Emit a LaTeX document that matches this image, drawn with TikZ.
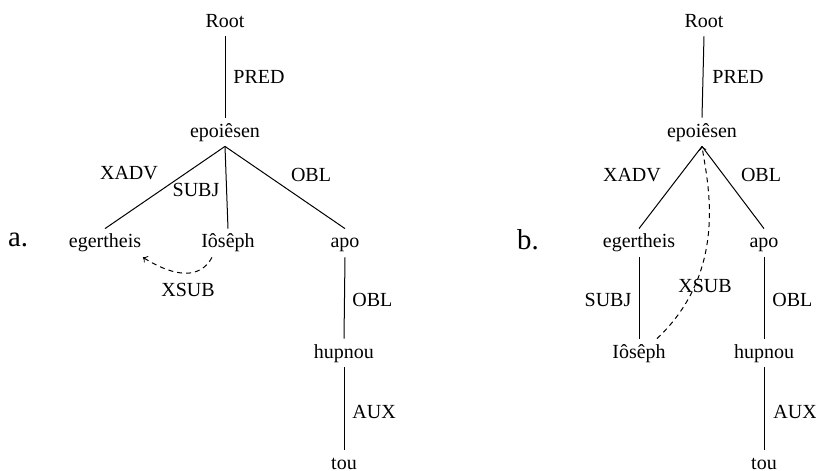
\documentclass[tikz,border=0pt]{standalone}
\usepackage{fontspec}
\setmainfont{Liberation Serif}
\usetikzlibrary{positioning}

\begin{document}
\begin{tikzpicture}[x=0.5pt,y=-0.5pt,
  word/.style={text height=7pt,text depth=2pt,inner xsep=1pt,inner ysep=2.5pt},
  rel/.style={font=\normalsize,inner sep=0pt},
  dep/.style={line width=0.5pt},
  xsub/.style={line width=0.5pt,dash pattern=on 2.5pt off 2pt,->}]
\useasboundingbox (0,0) rectangle (816,471);

% tree a
\node[font=\Large] (taga) at (18,240) {a.};
\node[word] (roota) at (225,22) {Root};
\node[word] (epoa) at (225,132) {epoiêsen};
\node[word] (egea) at (105,243) {egertheis};
\node[word] (iosa) at (228,243) {Iôsêph};
\node[word] (apoa) at (345,243) {apo};
\node[word] (hupa) at (344,353) {hupnou};
\node[word] (toua) at (344,464) {tou};

\draw[dep] (roota.south) -- (epoa.north);
\draw[dep] (epoa.south) -- (egea.north);
\draw[dep] (epoa.south) -- (iosa.north);
\draw[dep] (epoa.south) -- (apoa.north);
\draw[dep] (apoa.south) -- (hupa.north);
\draw[dep] (hupa.south) -- (toua.north);
\draw[xsub] ([xshift=-8pt]iosa.south) .. controls +(-12,22) and +(32,20) .. ([xshift=19pt]egea.south);

\node[rel,anchor=west] at (233,77) {PRED};
\node[rel] at (129,173) {XADV};
\node[rel] at (196,190) {SUBJ};
\node[rel] at (311,175) {OBL};
\node[rel] at (188,290) {XSUB};
\node[rel,anchor=west] at (352,300) {OBL};
\node[rel,anchor=west] at (352,412) {AUX};

% tree b
\node[font=\Large] (tagb) at (528,240) {b.};
\node[word] (rootb) at (704,22) {Root};
\node[word] (epob) at (702,132) {epoiêsen};
\node[word] (egeb) at (639,243) {egertheis};
\node[word] (apob) at (764,243) {apo};
\node[word] (iosb) at (639,353) {Iôsêph};
\node[word] (hupb) at (764,353) {hupnou};
\node[word] (toub) at (764,464) {tou};

\draw[dep] (rootb.south) -- (epob.north);
\draw[dep] (epob.south) -- (egeb.north);
\draw[dep] (epob.south) -- (apob.north);
\draw[dep] (egeb.south) -- (iosb.north);
\draw[dep] (apob.south) -- (hupb.north);
\draw[dep] (hupb.south) -- (toub.north);
\draw[xsub] ([xshift=9pt]iosb.north) .. controls (730,270) and (707,180) .. (epob.south);

\node[rel,anchor=west] at (712,77) {PRED};
\node[rel] at (632,175) {XADV};
\node[rel] at (761,175) {OBL};
\node[rel] at (608,300) {SUBJ};
\node[rel] at (705,286) {XSUB};
\node[rel,anchor=west] at (772,300) {OBL};
\node[rel,anchor=west] at (773,412) {AUX};
\end{tikzpicture}
\end{document}
